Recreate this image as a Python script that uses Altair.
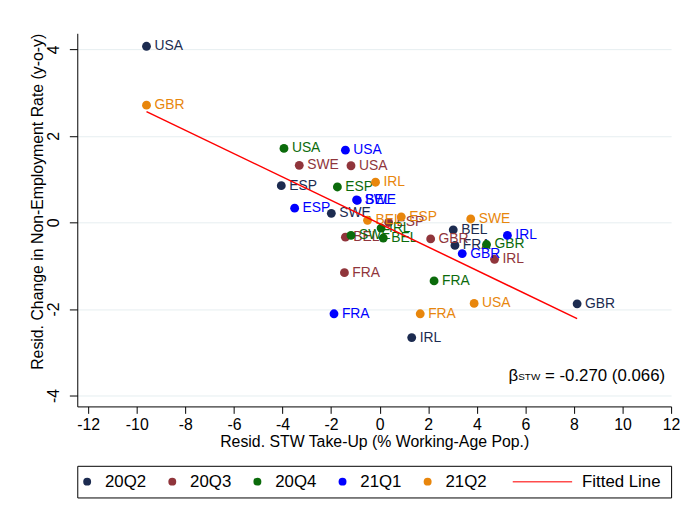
import altair as alt
import pandas as pd

# ---------------- data ----------------
quarters = ["20Q2", "20Q3", "20Q4", "21Q1", "21Q2"]
quarter_colors = ["#1c2b50", "#90353b", "#0b6b0b", "#0000ff", "#e8860c"]
fit_color = "#ff0000"
countries = ["BEL", "ESP", "FRA", "GBR", "IRL", "SWE", "USA"]

# residual STW take-up (x) and residual change in non-employment (y), country order as above
stw_20Q2 = [3.03, -4.05, 3.10, 8.13, 1.32, -1.99, -9.60]
ne_20Q2 = [-0.17, 0.85, -0.53, -1.88, -2.66, 0.21, 4.07]
stw_20Q3 = [-1.41, 0.37, -1.45, 2.10, 4.73, -3.31, -1.18]
ne_20Q3 = [-0.34, 0.00, -1.16, -0.38, -0.85, 1.32, 1.31]
stw_20Q4 = [0.15, -1.74, 2.24, 4.40, 0.06, -1.18, -3.94]
ne_20Q4 = [-0.36, 0.82, -1.35, -0.51, -0.13, -0.30, 1.71]
stw_21Q1 = [-0.92, -3.50, -1.88, 3.40, 5.26, -0.95, -1.41]
ne_21Q1 = [0.51, 0.33, -2.11, -0.72, -0.30, 0.52, 1.67]
stw_21Q2 = [-0.50, 0.89, 1.67, -9.60, -0.17, 3.75, 3.89]
ne_21Q2 = [0.05, 0.13, -2.11, 2.71, 0.93, 0.08, -1.87]

fit_x = [-9.60, 8.13]
fit_y = [2.56, -2.22]

beta_symbol = "β"
beta_sub = "STW"
beta_rest = "= -0.270 (0.066)"
beta_pos_x = [5.30]
beta_pos_y = [-3.54]

x_ticks = [-12, -10, -8, -6, -4, -2, 0, 2, 4, 6, 8, 10, 12]
y_ticks = [-4, -2, 0, 2, 4]
legend_labels = quarters + ["Fitted Line"]

# ---------------- tables ----------------
series = {
    "20Q2": (stw_20Q2, ne_20Q2),
    "20Q3": (stw_20Q3, ne_20Q3),
    "20Q4": (stw_20Q4, ne_20Q4),
    "21Q1": (stw_21Q1, ne_21Q1),
    "21Q2": (stw_21Q2, ne_21Q2),
}
rows = []
for q in quarters:
    xs, ys = series[q]
    for c, xv, yv in zip(countries, xs, ys):
        rows.append({"quarter": q, "country": c, "x": xv, "y": yv})
df = pd.DataFrame(rows)
fit_df = pd.DataFrame({"x": fit_x, "y": fit_y, "quarter": ["Fitted Line"] * len(fit_x)})
beta_df = pd.DataFrame({"x": beta_pos_x, "y": beta_pos_y})
leg_df = pd.DataFrame({"entry": legend_labels})

color_scale = alt.Scale(domain=legend_labels, range=quarter_colors + [fit_color])

x_enc = alt.X(
    "x:Q",
    scale=alt.Scale(domain=[-12.45, 12.0], nice=False, zero=False),
    axis=alt.Axis(
        values=x_ticks,
        title="Resid. STW Take-Up (% Working-Age Pop.)",
        grid=False,
        tickSize=7,
        labelPadding=3,
        titlePadding=2,
        labelFlush=False,
        labelExpr="'' + datum.value",
    ),
)
y_enc = alt.Y(
    "y:Q",
    scale=alt.Scale(domain=[-4.25, 4.37], nice=False, zero=False),
    axis=alt.Axis(
        values=y_ticks,
        title="Resid. Change in Non-Employment Rate (y-o-y)",
        grid=True,
        gridColor="#e6eef0",
        tickSize=8,
        labelAngle=270,
        labelAlign="center",
        labelBaseline="bottom",
        labelPadding=8,
        titlePadding=0,
        titleAnchor="end",
        labelFlush=False,
        labelExpr="'' + datum.value",
    ),
)

layers = []
for q in quarters:
    base = alt.Chart(df).transform_filter(alt.datum.quarter == q)
    pts = base.mark_circle(size=80, opacity=1).encode(
        x=x_enc, y=y_enc, color=alt.Color("quarter:N", scale=color_scale, legend=None)
    )
    lbl = base.mark_text(align="left", baseline="middle", dx=8, fontSize=14).encode(
        x=x_enc, y=y_enc, text="country:N",
        color=alt.Color("quarter:N", scale=color_scale, legend=None),
    )
    layers += [pts, lbl]

line = alt.Chart(fit_df).mark_line(strokeWidth=1.5).encode(
    x=x_enc, y=y_enc, color=alt.Color("quarter:N", scale=color_scale, legend=None)
)
b1 = alt.Chart(beta_df).mark_text(text=beta_symbol, align="left", baseline="middle",
                                  fontSize=17, color="black").encode(x=x_enc, y=y_enc)
b2 = alt.Chart(beta_df).mark_text(text=beta_sub, align="left", baseline="middle",
                                  fontSize=10, dx=10, dy=1, color="black").encode(x=x_enc, y=y_enc)
b3 = alt.Chart(beta_df).mark_text(text=beta_rest, align="left", baseline="middle",
                                  fontSize=17, dx=37, color="black").encode(x=x_enc, y=y_enc)

main = alt.layer(*layers, line, b1, b2, b3).properties(width=600, height=377)

# ---------------- legend panel ----------------
leg_x = alt.X("entry:N", scale=alt.Scale(type="point", domain=legend_labels, range=[10, 440], padding=0), axis=None)
leg_color = alt.Color("entry:N", scale=color_scale, legend=None)
leg_base = alt.Chart(leg_df)
is_q = alt.FieldOneOfPredicate(field="entry", oneOf=quarters)
is_fit = alt.FieldEqualPredicate(field="entry", equal="Fitted Line")
leg_pts = leg_base.transform_filter(is_q).mark_circle(size=64, opacity=1).encode(x=leg_x, color=leg_color)
leg_txt = leg_base.transform_filter(is_q).mark_text(align="left", baseline="middle", dx=18, fontSize=17,
                                                    color="black").encode(x=leg_x, text="entry:N")
leg_line = leg_base.transform_filter(is_fit).mark_tick(orient="horizontal", size=60, thickness=1.5,
                                                      xOffset=30).encode(x=leg_x, color=leg_color)
leg_line_txt = leg_base.transform_filter(is_fit).mark_text(align="left", baseline="middle", dx=70, fontSize=17,
                                                          color="black").encode(x=leg_x, text="entry:N")
legend = alt.layer(leg_pts, leg_txt, leg_line, leg_line_txt).properties(
    width=600, height=32, view=alt.ViewBackground(stroke="black", strokeWidth=1)
)

chart = (
    alt.vconcat(main, legend, spacing=14)
    .properties(padding={"left": 21, "top": 22, "right": 0, "bottom": 0})
    .configure(font="Liberation Sans")
    .configure_axis(
        domainColor="black", tickColor="black", labelColor="black", titleColor="black",
        labelFontSize=16, titleFontSize=16, titleFontWeight="normal",
        labelFont="Liberation Sans", titleFont="Liberation Sans",
    )
    .configure_view(stroke="transparent")
)

chart.save("out.html", embed_options={"renderer": "svg", "actions": False})
